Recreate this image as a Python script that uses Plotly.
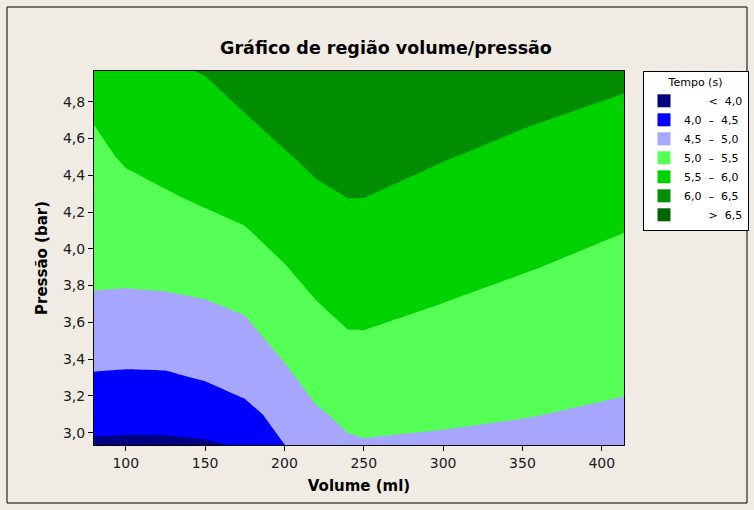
import plotly.graph_objects as go

# Grid (Volume in ml, Pressão in bar, Tempo in s)
volume = [80, 100, 125, 150, 175, 200, 220, 240, 250, 300, 350, 414]
pressao = [2.933, 3.1, 3.3, 3.5, 3.7, 3.9, 4.1, 4.3, 4.5, 4.7, 4.967]
tempo = [
    [3.937, 3.924, 3.924, 3.950, 4.040, 4.495, 4.757, 4.940, 4.965, 4.938, 4.908, 4.851],
    [4.175, 4.160, 4.164, 4.217, 4.347, 4.686, 4.944, 5.094, 5.119, 5.063, 5.016, 4.946],
    [4.455, 4.438, 4.446, 4.531, 4.707, 4.909, 5.164, 5.268, 5.281, 5.206, 5.143, 5.058],
    [4.736, 4.714, 4.730, 4.747, 4.847, 5.131, 5.307, 5.446, 5.451, 5.351, 5.270, 5.171],
    [4.917, 4.903, 4.921, 4.971, 5.067, 5.295, 5.483, 5.623, 5.623, 5.496, 5.397, 5.283],
    [5.144, 5.131, 5.153, 5.194, 5.268, 5.481, 5.653, 5.738, 5.738, 5.629, 5.523, 5.395],
    [5.181, 5.240, 5.297, 5.377, 5.473, 5.671, 5.788, 5.878, 5.877, 5.757, 5.650, 5.507],
    [5.292, 5.393, 5.477, 5.579, 5.681, 5.806, 5.940, 6.018, 6.016, 5.887, 5.777, 5.640],
    [5.403, 5.546, 5.654, 5.700, 5.806, 5.966, 6.090, 6.158, 6.155, 6.018, 5.904, 5.772],
    [5.514, 5.698, 5.763, 5.844, 5.969, 6.128, 6.243, 6.299, 6.294, 6.148, 6.032, 5.904],
    [5.664, 5.904, 5.950, 6.018, 6.187, 6.344, 6.447, 6.488, 6.481, 6.324, 6.203, 6.081],
]

nb = "\u00a0"
faixas = [
    nb * 7 + "<" + nb * 2 + "4,0",
    "4,0" + nb * 2 + "\u2013" + nb * 2 + "4,5",
    "4,5" + nb * 2 + "\u2013" + nb * 2 + "5,0",
    "5,0" + nb * 2 + "\u2013" + nb * 2 + "5,5",
    "5,5" + nb * 2 + "\u2013" + nb * 2 + "6,0",
    "6,0" + nb * 2 + "\u2013" + nb * 2 + "6,5",
    nb * 7 + ">" + nb * 2 + "6,5",
]
cores = ["#000080", "#0000FF", "#A6A6FF", "#55FF55", "#00D200", "#008E00", "#006400"]

x_ticks = [100, 150, 200, 250, 300, 350, 400]
y_ticks = [3.0, 3.2, 3.4, 3.6, 3.8, 4.0, 4.2, 4.4, 4.6, 4.8]

fig = go.Figure()
fig.add_trace(go.Contour(
    x=volume, y=pressao, z=tempo,
    autocontour=False,
    contours=dict(start=4.0, end=6.5, size=0.5, coloring="fill", showlines=False),
    colorscale=[[i / 6, c] for i, c in enumerate(cores)],
    showscale=False,
    line=dict(width=0, smoothing=0),
    hoverinfo="skip",
    showlegend=False,
))

for nome, cor in zip(faixas, cores):
    fig.add_trace(go.Scatter(
        x=[None], y=[None], mode="markers", name=nome,
        marker=dict(symbol="square", size=13, color=cor, line=dict(width=0)),
    ))

bg = "#F0ECE3"
fig.update_layout(
    width=754, height=510,
    paper_bgcolor=bg, plot_bgcolor=bg,
    margin=dict(l=94, r=130, t=71, b=65, autoexpand=False),
    separators=",.",
    font=dict(family="DejaVu Sans", size=14, color="#1a1a1a"),
    title=dict(
        text="<b>Gráfico de região volume/pressão</b>",
        x=386 / 754, xref="container", xanchor="center",
        y=1 - 48 / 510, yref="container", yanchor="middle",
        font=dict(size=17.5, color="black"),
    ),
    xaxis=dict(
        range=[80, 414], tickvals=x_ticks, ticks="outside", ticklen=5,
        tickcolor="black", showline=True, linecolor="black", linewidth=1,
        mirror=True, showgrid=False, zeroline=False, automargin=False,
        tickfont=dict(size=14),
        title=dict(text="<b>Volume (ml)</b>", font=dict(size=15, color="black"), standoff=10),
    ),
    yaxis=dict(
        range=[2.933, 4.967], tickvals=y_ticks, tickformat=".1f", ticks="outside",
        ticklen=5, tickcolor="black", showline=True, linecolor="black", linewidth=1,
        mirror=True, showgrid=False, zeroline=False, automargin=False,
        tickfont=dict(size=14),
        title=dict(text="<b>Pressão (bar)</b>", font=dict(size=15, color="black"), standoff=11),
    ),
    legend=dict(
        x=(643 - 94) / 530, xanchor="left", y=1.0, yanchor="top",
        bgcolor="white", bordercolor="black", borderwidth=1,
        font=dict(size=11, color="black"),
        title=dict(text="Tempo (s)", side="top center", font=dict(size=11)),
        itemsizing="trace", traceorder="normal",
    ),
    shapes=[dict(
        type="rect", xref="paper", yref="paper",
        x0=(7 - 94) / 530, x1=(747 - 94) / 530,
        y0=(445 - 503) / 374, y1=(445 - 7) / 374,
        line=dict(color="black", width=1), fillcolor="rgba(0,0,0,0)", layer="below",
    )],
)

fig.write_html(
    "out.html",
    config={"displayModeBar": False},
    post_script=(
        "document.body.style.margin='0';"
        "document.body.style.overflow='hidden';"
        "document.body.style.background='" + bg + "';"
    ),
)
